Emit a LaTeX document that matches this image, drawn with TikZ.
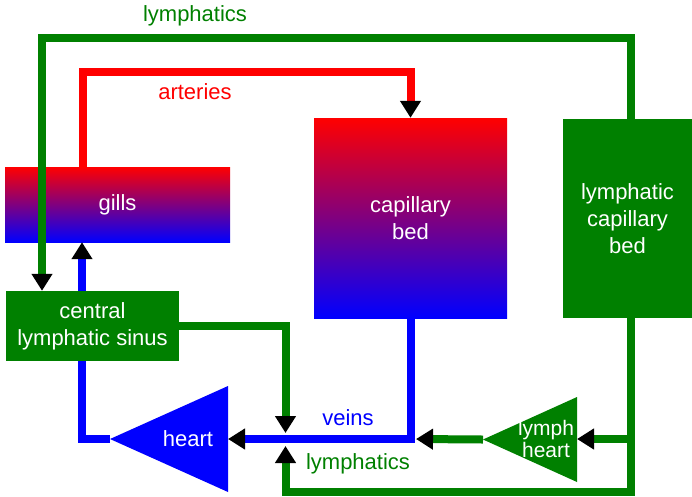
\documentclass[tikz,border=0pt]{standalone}
\usepackage{fontspec}
\setmainfont{Liberation Sans}
\usetikzlibrary{arrows.meta}
\definecolor{lymph}{RGB}{0,128,0}

\tikzset{
    vessel/.style={line width=8pt},
    inflow/.style={-{Triangle[length=17pt,width=20pt,color=black]}},
    organ/.style={inner sep=0pt, text=white, align=center},
}

\begin{document}
\begin{tikzpicture}[x=1pt,y=-1pt,font=\fontsize{22}{27}\selectfont]
\useasboundingbox (0,0) rectangle (692,496);
    % organs
    \node[organ, top color=red, bottom color=blue,
          minimum width=225pt, minimum height=75pt] (gills) at (117.5,204.5) {gills};
    \node[organ, top color=red, bottom color=blue,
          minimum width=193pt, minimum height=200pt] (capbed) at (410.5,218) {capillary\\bed};
    \node[organ, fill=lymph,
          minimum width=129pt, minimum height=199pt] (lymcap) at (627.5,218.5) {lymphatic\\capillary\\bed};
    \node[organ, fill=lymph,
          minimum width=173pt, minimum height=70pt] (sinus) at (92.5,326) {central\\lymphatic sinus};
    % hearts
    \path[coordinate] (110,439)   coordinate(heart tip)
                      (228,386)   coordinate(heart top)
                      (228,492)   coordinate(heart bot)
                      (483,439.5) coordinate(lh tip)
                      (577,397)   coordinate(lh top)
                      (577,482)   coordinate(lh bot);
    \fill[blue]  (heart tip) -- (heart top) -- (heart bot) -- cycle;
    \fill[lymph] (lh tip) -- (lh top) -- (lh bot) -- cycle;
    \node[organ] (heart) at (188,439) {heart};
    \node[organ, font=\fontsize{21}{22}\selectfont] (lheart) at (546,439) {lymph\\heart};
    % bends of the vessels
    \path[coordinate] (83,72)      coordinate(art)
                      (42,38)      coordinate(lymtop)
                      (82,439)     coordinate(bv)
                      (411,439)    coordinate(vbend)
                      (631,439)    coordinate(lymR)
                      (631,491.5)  coordinate(lymbot)
                      (285.5,439)  coordinate(jn);
    \draw[vessel,red,inflow] (gills.north -| art) -- (art) -| (capbed.north);
    \draw[vessel,lymph,inflow] (lymcap.north -| lymR) |- (lymtop) -- (sinus.north -| lymtop);
    \draw[vessel,blue,inflow] (sinus.north -| bv) -- (gills.south -| bv);
    \draw[vessel,blue] (sinus.south -| bv) -- (bv) -- (heart tip);
    \draw[vessel,blue,inflow] (capbed.south -| vbend) -- (vbend) -- (heart top |- vbend);
    \draw[vessel,lymph,inflow] (sinus.east) -| ([yshift=6pt]jn);
    \draw[vessel,lymph,inflow] (lymcap.south -| lymR) -- (lymbot) -| ([yshift=-7pt]jn);
    \draw[vessel,lymph,inflow] (lymR) -- (lh top |- lymR);
    \draw[vessel,lymph,inflow] (lh tip) -- ([xshift=5pt]vbend);
    % labels
    \node[text=lymph] (toplabel) at (195,16) {lymphatics};
    \node[text=red]   (artlabel) at (195,92) {arteries};
    \node[text=blue]  (veinlabel) at (348,418) {veins};
    \node[text=lymph] (botlabel) at (358,464) {lymphatics};
\end{tikzpicture}
\end{document}
